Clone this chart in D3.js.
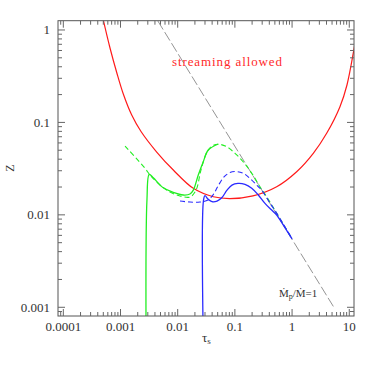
<!DOCTYPE html>
<html><head><meta charset="utf-8">
<script src="https://cdn.jsdelivr.net/npm/d3@7"></script>
<style>body{margin:0;background:#fff;} svg{display:block;}</style>
</head><body>
<script>
// ---- data ----
const xTickValues = [1e-4, 1e-3, 1e-2, 0.1, 1, 10];
const xTickLabels = ["0.0001", "0.001", "0.01", "0.1", "1", "10"];
const yTickValues = [0.001, 0.01, 0.1, 1];
const yTickLabels = ["0.001", "0.01", "0.1", "1"];

// streaming threshold (red)
const redTau = [4.62e-4, 5.0e-4, 6.55e-4, 8.585e-4, 1.119e-3, 1.570e-3, 2.283e-3, 4.295e-3, 8.38e-3, 0.01874, 0.04194, 0.0821, 0.2072, 0.538, 1.203, 2.348, 4.026, 6.877, 9.117, 12.08, 13.63];
const redZ   = [1.605, 1.283, 0.6385, 0.3467, 0.2029, 0.1202, 0.0797, 0.04783, 0.03053, 0.01935, 0.0157, 0.01501, 0.01605, 0.02014, 0.02927, 0.04629, 0.07621, 0.1479, 0.2541, 0.6182, 0.9514];

// Mdot_p / Mdot = 1 line (grey)
const greyTau = [0.0045, 5.6];
const greyZ   = [1.25, 0.00096];

// green solid
const greenSolidTau = [0.00279, 0.0029, 0.00318, 0.00374, 0.0056, 0.00838, 0.01253, 0.0164, 0.01875, 0.0229, 0.0280, 0.0343, 0.0513];
const greenSolidZ   = [0.0007, 0.0145, 0.0274, 0.0252, 0.0196, 0.0175, 0.0164, 0.0168, 0.0185, 0.0270, 0.0376, 0.0503, 0.0584];

// green dashed
const greenDashTau = [0.0012, 0.00268, 0.00328, 0.00491, 0.00733, 0.01096, 0.0164, 0.0209, 0.0255, 0.0325, 0.0398, 0.052, 0.0719, 0.1005, 0.1315, 0.1716, 0.2245, 0.2745, 0.36, 0.538, 1.0];
const greenDashZ   = [0.0555, 0.0319, 0.0270, 0.0210, 0.0177, 0.0160, 0.0156, 0.0185, 0.0305, 0.0478, 0.0555, 0.058, 0.0546, 0.0463, 0.0392, 0.0319, 0.0248, 0.0201, 0.0157, 0.0104, 0.0055];

// blue solid
const blueSolidTau = [0.0277, 0.0283, 0.030, 0.0339, 0.0398, 0.0487, 0.0595, 0.0728, 0.0889, 0.113, 0.150, 0.197, 0.257, 0.336, 0.440, 0.538, 0.721, 1.0];
const blueSolidZ   = [0.0007, 0.01445, 0.0161, 0.0148, 0.0139, 0.0141, 0.0154, 0.0185, 0.0210, 0.0219, 0.0214, 0.0194, 0.0164, 0.0133, 0.01127, 0.00995, 0.00757, 0.0055];

// blue dashed
const blueDashTau = [0.01096, 0.0164, 0.0245, 0.0339, 0.0414, 0.0507, 0.0645, 0.082, 0.1045, 0.1385, 0.1837, 0.240, 0.294, 0.411, 0.545, 1.0];
const blueDashZ   = [0.0141, 0.01376, 0.01376, 0.01445, 0.0164, 0.0205, 0.0257, 0.0287, 0.0294, 0.0283, 0.0248, 0.0210, 0.0185, 0.0134, 0.0103, 0.0055];

// ---- drawing ----
const W = 374, H = 374;
const L = 58, R = 354, T = 20.7, B = 316;
const svg = d3.select("body").append("svg").attr("width", W).attr("height", H);

const x = d3.scaleLog().domain([8.07e-5, 12.1]).range([L, R]);
const y = d3.scaleLog().domain([8.05e-4, 1.26]).range([B, T]);

svg.append("defs").append("clipPath").attr("id", "clip")
  .append("rect").attr("x", L).attr("y", T).attr("width", R - L).attr("height", B - T);

const zip = (a, b) => a.map((v, i) => [v, b[i]]);
const line = d3.line().x(d => x(d[0])).y(d => y(d[1])).curve(d3.curveCatmullRom.alpha(0.5));
const straight = d3.line().x(d => x(d[0])).y(d => y(d[1]));

const g = svg.append("g").attr("clip-path", "url(#clip)");

g.append("path").attr("d", straight(zip(greyTau, greyZ)))
  .attr("fill", "none").attr("stroke", "#888").attr("stroke-width", 0.9).attr("stroke-dasharray", "10,3");
g.append("path").attr("d", line(zip(redTau, redZ)))
  .attr("fill", "none").attr("stroke", "#ff1a1a").attr("stroke-width", 1.2);
g.append("path").attr("d", line(zip(greenSolidTau, greenSolidZ)))
  .attr("fill", "none").attr("stroke", "#22ee22").attr("stroke-width", 1.3);
g.append("path").attr("d", line(zip(greenDashTau, greenDashZ)))
  .attr("fill", "none").attr("stroke", "#22ee22").attr("stroke-width", 1.1).attr("stroke-dasharray", "5,3");
g.append("path").attr("d", line(zip(blueSolidTau, blueSolidZ)))
  .attr("fill", "none").attr("stroke", "#2a2aff").attr("stroke-width", 1.3);
g.append("path").attr("d", line(zip(blueDashTau, blueDashZ)))
  .attr("fill", "none").attr("stroke", "#2a2aff").attr("stroke-width", 1.1).attr("stroke-dasharray", "5,3");

// frame
svg.append("rect").attr("x", L).attr("y", T).attr("width", R - L).attr("height", B - T)
  .attr("fill", "none").attr("stroke", "#555").attr("stroke-width", 1);

// ticks
function minors(scale) {
  const [a, b] = scale.domain();
  const out = [];
  for (let e = -6; e <= 2; e++) for (let m = 2; m <= 9; m++) {
    const v = m * Math.pow(10, e);
    if (v > a && v < b) out.push(v);
  }
  return out;
}
const tk = svg.append("g").attr("stroke", "#666").attr("stroke-width", 1);
const MAJ = 7, MIN = 4;
xTickValues.forEach(v => {
  const px = x(v);
  tk.append("line").attr("x1", px).attr("x2", px).attr("y1", B).attr("y2", B - MAJ);
  tk.append("line").attr("x1", px).attr("x2", px).attr("y1", T).attr("y2", T + MAJ);
});
minors(x).forEach(v => {
  const px = x(v);
  tk.append("line").attr("x1", px).attr("x2", px).attr("y1", B).attr("y2", B - MIN);
  tk.append("line").attr("x1", px).attr("x2", px).attr("y1", T).attr("y2", T + MIN);
});
yTickValues.forEach(v => {
  const py = y(v);
  tk.append("line").attr("y1", py).attr("y2", py).attr("x1", L).attr("x2", L + MAJ);
  tk.append("line").attr("y1", py).attr("y2", py).attr("x1", R).attr("x2", R - MAJ);
});
minors(y).forEach(v => {
  const py = y(v);
  tk.append("line").attr("y1", py).attr("y2", py).attr("x1", L).attr("x2", L + MIN);
  tk.append("line").attr("y1", py).attr("y2", py).attr("x1", R).attr("x2", R - MIN);
});

const font = "'Liberation Serif', 'DejaVu Serif', serif";
xTickValues.forEach((v, i) => {
  svg.append("text").attr("x", x(v)).attr("y", 330.5).attr("text-anchor", "middle")
    .attr("font-family", font).attr("font-size", 13).attr("fill", "#333").text(xTickLabels[i]);
});
yTickValues.forEach((v, i) => {
  svg.append("text").attr("x", 50).attr("y", y(v) + 4.3).attr("text-anchor", "end")
    .attr("font-family", font).attr("font-size", 13).attr("fill", "#333").text(yTickLabels[i]);
});

// axis titles
const xt = svg.append("text").attr("x", 202).attr("y", 342)
  .attr("font-family", font).attr("font-size", 13).attr("fill", "#333");
xt.append("tspan").text("τ");
xt.append("tspan").attr("font-size", 9).attr("dy", 2).text("s");

svg.append("text").attr("transform", "translate(14,168) rotate(-90)").attr("text-anchor", "middle")
  .attr("font-family", font).attr("font-size", 12).attr("fill", "#333").text("Z");

// annotations
svg.append("text").attr("x", 172).attr("y", 66).attr("textLength", 110).attr("lengthAdjust", "spacing")
  .attr("font-family", font).attr("font-size", 13).attr("fill", "#ff2a2a").text("streaming allowed");

const mt = svg.append("text").attr("x", 279).attr("y", 297)
  .attr("font-family", font).attr("font-size", 11).attr("fill", "#333");
mt.append("tspan").text("Ṁ");
mt.append("tspan").attr("font-size", 8).attr("dy", 2).text("p");
mt.append("tspan").attr("dy", -2).text("/Ṁ=1");
</script>
</body></html>
